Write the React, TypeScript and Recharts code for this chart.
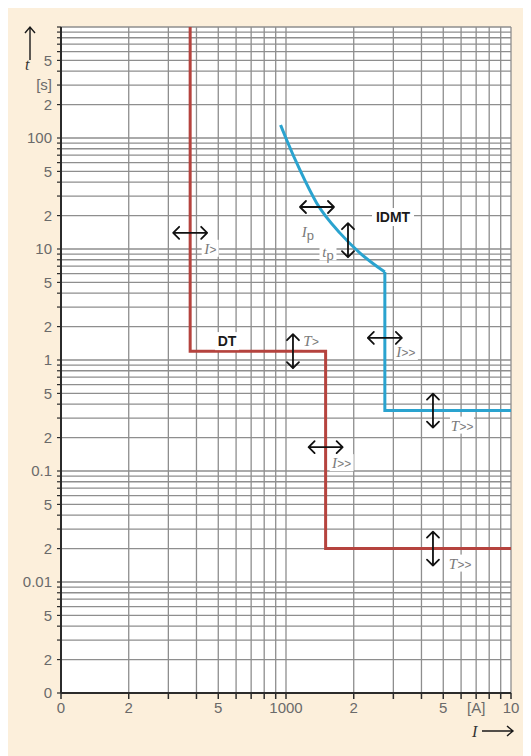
import { CartesianGrid, Line, LineChart, ReferenceDot, XAxis, YAxis } from "recharts";

// current axis [A], log scale 100 .. 10000
const currentGrid = [100, 200, 300, 400, 500, 600, 700, 800, 900, 1000, 2000, 3000, 4000, 5000, 6000, 7000, 8000, 9000, 10000];
const currentLabelValues = [100, 200, 500, 1000, 2000, 5000, 7000, 10000];
const currentLabelTexts = ["0", "2", "5", "1000", "2", "5", "[A]", "10"];

// time axis [s], log scale 0.001 .. 1000
const timeGrid = [
  0.001, 0.002, 0.003, 0.004, 0.005, 0.006, 0.007, 0.008, 0.009,
  0.01, 0.02, 0.03, 0.04, 0.05, 0.06, 0.07, 0.08, 0.09,
  0.1, 0.2, 0.3, 0.4, 0.5, 0.6, 0.7, 0.8, 0.9,
  1, 2, 3, 4, 5, 6, 7, 8, 9,
  10, 20, 30, 40, 50, 60, 70, 80, 90,
  100, 200, 300, 400, 500, 600, 700, 800, 900, 1000,
];
const timeLabelValues = [0.001, 0.002, 0.005, 0.01, 0.02, 0.05, 0.1, 0.2, 0.5, 1, 2, 5, 10, 20, 50, 100, 200, 300, 500];
const timeLabelTexts = ["0", "2", "5", "0.01", "2", "5", "0.1", "2", "5", "1", "2", "5", "10", "2", "5", "100", "2", "[s]", "5"];

// definite time (DT) characteristic
const dtCurrent = [375, 375, 1500, 1500, 10000];
const dtTime = [1000, 1.2, 1.2, 0.02, 0.02];

// inverse definite minimum time (IDMT) characteristic
const idmtCurveCurrent = [946, 1007, 1153, 1368, 1738, 2133, 2750];
const idmtCurveTime = [131, 96, 51.5, 26, 13.9, 9.2, 6.2];
const idmtStepCurrent = [2750, 2750, 10000];
const idmtStepTime = [6.2, 0.35, 0.35];

// setting arrows: [current, time, direction, main text, suffix, subscript?]
const arrowCurrent = [375, 1373, 1886, 1074, 1500, 2750, 4500, 4500];
const arrowTime = [14, 23.9, 12, 1.2, 0.164, 1.58, 0.35, 0.02];
const arrowDir = ["h", "h", "v", "v", "h", "h", "v", "v"];
const arrowMain = ["I", "I", "t", "T", "I", "I", "T", "T"];
const arrowSuffix = [">", "p", "p", ">", ">>", ">>", ">>", ">>"];
const arrowSub = [false, true, true, false, false, false, false, false];
const arrowLabelDx = [20, -9, -20, 18, 16, 21, 29, 27];
const arrowLabelDy = [16, 25, 12, -10, 16, 14, 15, 15];

const curveNames = ["DT", "IDMT"];
const curveNameCurrent = [547, 2990];
const curveNameTime = [1.48, 19.4];

const zip = (xs: number[], ys: number[]) => xs.map((i, k) => ({ i, t: ys[k] }));

const RED = "#b5433e";
const BLUE = "#2aa3cf";
const BEIGE = "#fcefdb";
const GRID = "#8e8e8e";
const AXIS = "#2b2b2b";

function SettingArrow(props: any) {
  const { cx, cy, k } = props;
  const L = 17;
  const h = 6;
  const dir = arrowDir[k];
  const path =
    dir === "h"
      ? `M${cx - L},${cy} L${cx + L},${cy} M${cx - L + h},${cy - h} L${cx - L},${cy} L${cx - L + h},${cy + h} M${cx + L - h},${cy - h} L${cx + L},${cy} L${cx + L - h},${cy + h}`
      : `M${cx},${cy - L} L${cx},${cy + L} M${cx - h},${cy - L + h} L${cx},${cy - L} L${cx + h},${cy - L + h} M${cx - h},${cy + L - h} L${cx},${cy + L} L${cx + h},${cy + L - h}`;
  const lx = cx + arrowLabelDx[k];
  const ly = cy + arrowLabelDy[k];
  const w = arrowSuffix[k].length * 7 + 10;
  return (
    <g>
      <rect x={lx - w / 2} y={ly - 9} width={w} height={17} fill="#fff" />
      <text
        x={lx}
        y={ly + 5}
        textAnchor="middle"
        fontFamily="Liberation Serif"
        fontStyle="italic"
        fontSize={15}
        fill="#7a7a7a"
      >
        {arrowMain[k]}
        {arrowSub[k] ? (
          <tspan dy={3} fontSize={13} fontStyle="normal" fontFamily="Liberation Sans">
            {arrowSuffix[k]}
          </tspan>
        ) : (
          <tspan fontSize={12} fontFamily="Liberation Sans">
            {arrowSuffix[k]}
          </tspan>
        )}
      </text>
      <path d={path} stroke="#111" strokeWidth={1.8} fill="none" strokeLinecap="round" strokeLinejoin="round" />
    </g>
  );
}

function CurveName(props: any) {
  const { cx, cy, k } = props;
  const w = curveNames[k].length * 9 + 6;
  return (
    <g>
      <rect x={cx - w / 2} y={cy - 9} width={w} height={18} fill="#fff" />
      <text x={cx} y={cy + 5} textAnchor="middle" fontFamily="Liberation Sans" fontWeight="bold" fontSize={14} fill="#1a1a1a">
        {curveNames[k]}
      </text>
    </g>
  );
}

const fmt = (values: number[], texts: string[]) => (v: number) => {
  const idx = values.findIndex((x) => Math.abs(x - v) / x < 1e-6);
  return idx >= 0 ? texts[idx] : "";
};

export default function App() {
  return (
    <div style={{ position: "relative", width: 515, height: 752, marginTop: -4, background: BEIGE }}>
      <LineChart width={515} height={752} margin={{ top: 23, right: 12, left: 0, bottom: 0 }}>
        <CartesianGrid fill="#fff" fillOpacity={1} stroke={GRID} strokeWidth={1.3} />
        <XAxis
          type="number"
          dataKey="i"
          scale="log"
          domain={[100, 10000]}
          ticks={currentGrid}
          interval={0}
          allowDataOverflow
          height={63}
          tickSize={6}
          tickMargin={3}
          tickFormatter={fmt(currentLabelValues, currentLabelTexts)}
          axisLine={{ stroke: AXIS, strokeWidth: 2 }}
          tickLine={{ stroke: AXIS, strokeWidth: 1.5 }}
          tick={{ fontSize: 15, fill: "#6a6a6a", fontFamily: "Liberation Sans" }}
        />
        <YAxis
          type="number"
          dataKey="t"
          scale="log"
          domain={[0.001, 1000]}
          ticks={timeGrid}
          interval={0}
          allowDataOverflow
          width={53}
          tickSize={4}
          tickMargin={5}
          tickFormatter={fmt(timeLabelValues, timeLabelTexts)}
          axisLine={{ stroke: AXIS, strokeWidth: 2 }}
          tickLine={{ stroke: AXIS, strokeWidth: 1.2 }}
          tick={{ fontSize: 15, fill: "#6a6a6a", fontFamily: "Liberation Sans" }}
        />
        <Line
          data={zip(dtCurrent, dtTime)}
          dataKey="t"
          type="linear"
          stroke={RED}
          strokeWidth={3}
          dot={false}
          isAnimationActive={false}
        />
        <Line
          data={zip(idmtCurveCurrent, idmtCurveTime)}
          dataKey="t"
          type="monotoneX"
          stroke={BLUE}
          strokeWidth={3}
          dot={false}
          isAnimationActive={false}
        />
        <Line
          data={zip(idmtStepCurrent, idmtStepTime)}
          dataKey="t"
          type="linear"
          stroke={BLUE}
          strokeWidth={3}
          dot={false}
          isAnimationActive={false}
        />
        {curveNames.map((n, k) => (
          <ReferenceDot
            key={n}
            x={curveNameCurrent[k]}
            y={curveNameTime[k]}
            r={0}
            ifOverflow="visible"
            shape={(p: any) => <CurveName {...p} k={k} />}
          />
        ))}
        {arrowCurrent.map((c, k) => (
          <ReferenceDot
            key={k}
            x={c}
            y={arrowTime[k]}
            r={0}
            ifOverflow="visible"
            shape={(p: any) => <SettingArrow {...p} k={k} />}
          />
        ))}
      </LineChart>
      <svg width={515} height={752} style={{ position: "absolute", left: 0, top: 0, pointerEvents: "none" }}>
        <path d="M22,56 L22,23 M17,29 L22,23 L27,29" stroke="#1a1a1a" strokeWidth={1.4} fill="none" />
        <text x={17} y={66} fontFamily="Liberation Serif" fontStyle="italic" fontSize={16} fill="#333">
          t
        </text>
        <text x={464} y={733} fontFamily="Liberation Serif" fontStyle="italic" fontSize={16} fill="#333">
          I
        </text>
        <path d="M474,727 L505,727 M499,722 L505,727 L499,732" stroke="#1a1a1a" strokeWidth={1.4} fill="none" />
      </svg>
    </div>
  );
}
